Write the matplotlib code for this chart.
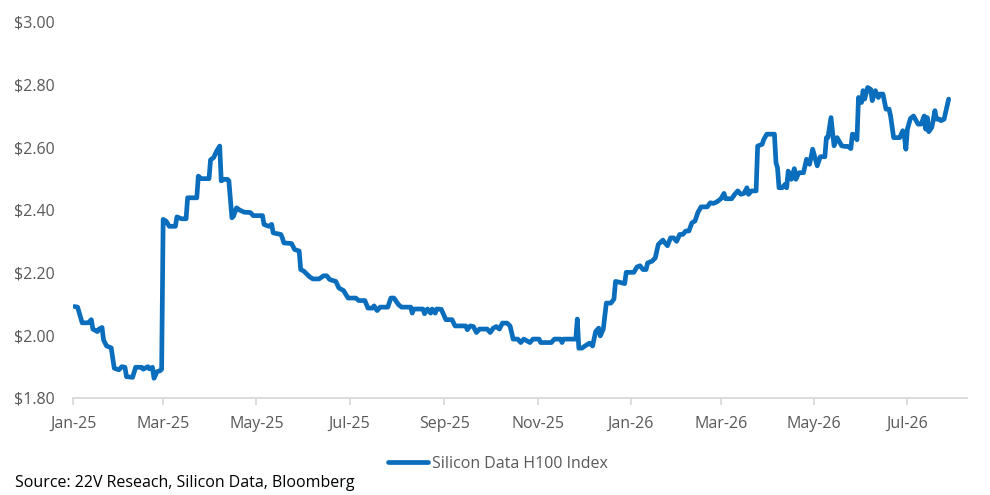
import matplotlib
matplotlib.use("Agg")
import matplotlib.pyplot as plt
import matplotlib.dates as mdates
import matplotlib.ticker as mticker
import pandas as pd

# ---- data (days since 2025-01-01, index value in $) ----
start_date = "2025-01-01"
day_offset = [
    1, 3, 6, 10, 12, 13, 16, 17, 19, 20, 22, 25, 27, 30, 32, 34, 35, 39, 41, 45,
    46, 49, 50, 52, 53, 55, 57, 58, 59, 61, 63, 67, 68, 71, 74, 75, 81, 82, 84, 89,
    90, 92, 94, 96, 97, 99, 101, 102, 104, 105, 107, 109, 112, 116, 118, 124, 125, 128, 130, 131,
    136, 137, 138, 143, 145, 148, 149, 151, 155, 157, 161, 164, 166, 168, 172, 174, 177, 180, 185, 187,
    191, 193, 196, 197, 199, 201, 206, 208, 210, 213, 215, 221, 222, 223, 229, 230, 232, 234, 235, 237,
    238, 241, 244, 248, 250, 257, 258, 260, 262, 264, 266, 271, 273, 275, 277, 279, 281, 284, 286, 288,
    291, 293, 295, 299, 301, 305, 306, 313, 315, 319, 320, 321, 329, 330, 331, 333, 335, 338, 340, 342,
    344, 345, 347, 349, 352, 354, 355, 358, 361, 362, 367, 369, 371, 373, 375, 376, 379, 381, 382, 383,
    386, 387, 389, 391, 393, 395, 397, 399, 401, 403, 405, 407, 409, 411, 415, 417, 419, 421, 424, 426,
    427, 431, 433, 435, 437, 439, 441, 442, 444, 447, 448, 451, 452, 454, 459, 460, 461, 462, 464, 466,
    467, 468, 470, 472, 473, 475, 478, 480, 482, 484, 487, 489, 492, 493, 494, 496, 498, 500, 503, 505,
    507, 509, 510, 512, 513, 514, 516, 517, 518, 520, 522, 523, 525, 527, 528, 530, 532, 534, 535, 537,
    541, 543, 544, 545, 546, 548, 550, 553, 555, 557, 558, 559, 560, 562, 564, 565, 567, 568, 570, 573,
]
price = [
    2.092, 2.090, 2.040, 2.040, 2.050, 2.020, 2.012, 2.020, 2.025, 1.985, 1.966, 1.960, 1.895, 1.890, 1.900, 1.898, 1.868, 1.866, 1.898, 1.898,
    1.892, 1.900, 1.893, 1.898, 1.863, 1.884, 1.887, 1.892, 2.370, 2.364, 2.348, 2.348, 2.378, 2.372, 2.372, 2.439, 2.439, 2.508, 2.500, 2.500,
    2.560, 2.567, 2.588, 2.604, 2.493, 2.498, 2.498, 2.493, 2.375, 2.380, 2.407, 2.400, 2.393, 2.392, 2.382, 2.382, 2.354, 2.348, 2.354, 2.327,
    2.322, 2.311, 2.295, 2.293, 2.274, 2.269, 2.210, 2.205, 2.186, 2.180, 2.180, 2.190, 2.190, 2.178, 2.172, 2.151, 2.143, 2.119, 2.119, 2.111,
    2.111, 2.087, 2.087, 2.094, 2.079, 2.090, 2.090, 2.119, 2.119, 2.098, 2.090, 2.090, 2.071, 2.084, 2.084, 2.069, 2.084, 2.071, 2.084, 2.071,
    2.084, 2.083, 2.050, 2.050, 2.030, 2.030, 2.018, 2.030, 2.028, 2.009, 2.020, 2.020, 2.009, 2.023, 2.028, 2.020, 2.039, 2.039, 2.030, 1.988,
    1.988, 1.977, 1.988, 1.977, 1.988, 1.988, 1.977, 1.977, 1.988, 1.988, 1.977, 1.988, 1.988, 2.052, 1.959, 1.959, 1.966, 1.975, 1.966, 2.012,
    2.023, 1.998, 2.020, 2.103, 2.103, 2.116, 2.172, 2.169, 2.165, 2.201, 2.201, 2.218, 2.222, 2.210, 2.210, 2.231, 2.237, 2.247, 2.269, 2.290,
    2.304, 2.297, 2.286, 2.311, 2.311, 2.300, 2.322, 2.322, 2.333, 2.333, 2.359, 2.365, 2.393, 2.410, 2.410, 2.423, 2.421, 2.425, 2.436, 2.453,
    2.436, 2.436, 2.450, 2.461, 2.450, 2.453, 2.471, 2.450, 2.461, 2.461, 2.604, 2.610, 2.625, 2.642, 2.642, 2.551, 2.535, 2.471, 2.471, 2.482,
    2.471, 2.524, 2.498, 2.532, 2.498, 2.519, 2.519, 2.562, 2.546, 2.594, 2.541, 2.570, 2.570, 2.631, 2.631, 2.695, 2.605, 2.631, 2.605, 2.603,
    2.603, 2.596, 2.642, 2.639, 2.624, 2.759, 2.743, 2.781, 2.754, 2.791, 2.785, 2.749, 2.781, 2.759, 2.770, 2.770, 2.722, 2.722, 2.700, 2.631,
    2.631, 2.653, 2.638, 2.594, 2.658, 2.692, 2.700, 2.674, 2.674, 2.700, 2.658, 2.695, 2.650, 2.664, 2.717, 2.690, 2.690, 2.685, 2.690, 2.754,
]
series_name = "Silicon Data H100 Index"
source_text = "Source: 22V Reseach, Silicon Data, Bloomberg"
y_ticks = [1.80, 2.00, 2.20, 2.40, 2.60, 2.80, 3.00]
x_start = "2025-01-01"
x_end = "2026-08-09"

dates = pd.Timestamp(start_date) + pd.to_timedelta(day_offset, unit="D")

plt.rcParams["font.family"] = ["Open Sans", "DejaVu Sans"]
fs = 11.5

fig = plt.figure(figsize=(9.9, 4.95), dpi=100)
ax = fig.add_axes([73 / 990, 1 - 398 / 495, (967 - 73) / 990, (398 - 22) / 495])

line_color = "#0A6EBD"
ax.plot(dates, price, color=line_color, lw=3.4, solid_joinstyle="round",
        solid_capstyle="round", label=series_name)

ax.set_ylim(y_ticks[0], y_ticks[-1])
ax.set_yticks(y_ticks)
ax.yaxis.set_major_formatter(mticker.FuncFormatter(lambda v, p: f"${v:.2f}"))
ax.set_xlim(pd.Timestamp(x_start), pd.Timestamp(x_end))
ax.xaxis.set_major_locator(mdates.MonthLocator(bymonth=[1, 3, 5, 7, 9, 11]))
ax.xaxis.set_major_formatter(mdates.DateFormatter("%b-%y"))

for s in ["top", "right", "left"]:
    ax.spines[s].set_visible(False)
ax.spines["bottom"].set_color("#D9D9D9")
ax.spines["bottom"].set_linewidth(1.3)

tick_color = "#595959"
ax.tick_params(axis="y", length=0, pad=13, labelsize=fs, labelcolor=tick_color)
ax.tick_params(axis="x", length=5, width=1.3, color="#D9D9D9", pad=8,
               labelsize=fs, labelcolor=tick_color)

leg = fig.legend(loc="center", bbox_to_anchor=(498 / 990, 1 - 464 / 495),
                 frameon=False, fontsize=fs, handlelength=2.55, handletextpad=0.25)
for t in leg.get_texts():
    t.set_color(tick_color)

fig.text(15 / 990, 1 - 483 / 495, source_text, ha="left", va="center",
         fontsize=fs, color="black")

fig.savefig("out.png", dpi=100)
